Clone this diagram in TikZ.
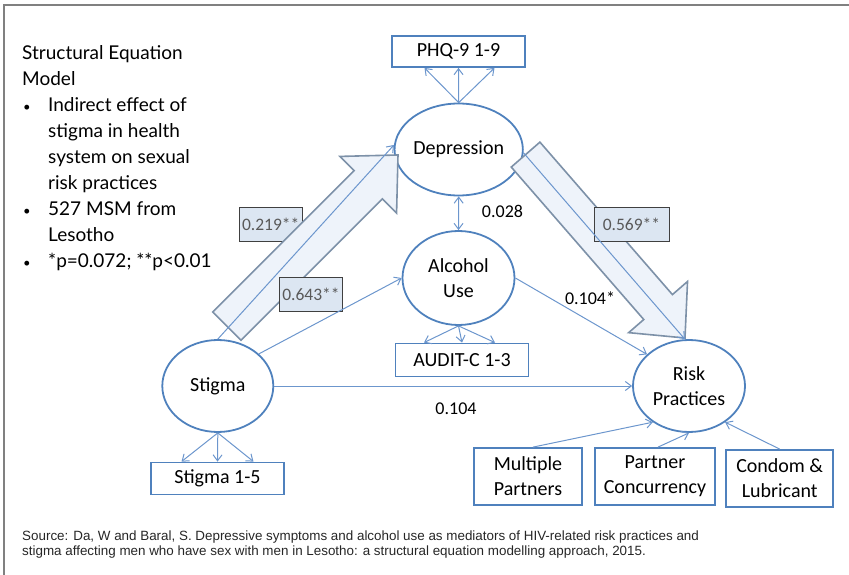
\documentclass[tikz,border=0pt]{standalone}
\usepackage{fontspec}
\setmainfont{Carlito}
\newfontfamily\sidefont{Lato}
\newfontfamily\srcfont{Liberation Sans}
\usetikzlibrary{shapes.geometric,arrows.meta}
\definecolor{nodeblue}{RGB}{79,129,189}
\definecolor{linkblue}{RGB}{108,150,205}
\definecolor{bigfill}{RGB}{238,243,250}
\definecolor{bigline}{RGB}{125,145,168}
\definecolor{labfill}{RGB}{220,230,242}
\definecolor{labtext}{RGB}{89,89,89}
\tikzstyle{latent}=[ellipse,draw=nodeblue,line width=1.8pt,minimum width=111pt,minimum height=92pt,inner sep=0pt,font=\fontsize{20}{25}\selectfont,align=center]
\tikzstyle{indicator}=[rectangle,draw=nodeblue,line width=1.8pt,inner sep=0pt,font=\fontsize{20}{25}\selectfont,align=center]
\tikzstyle{coef}=[rectangle,draw=black!75,fill=labfill,text=labtext,line width=0.8pt,inner xsep=3pt,minimum height=34pt,font=\fontsize{17.5}{20}\selectfont]
\tikzstyle{num}=[inner sep=0pt,font=\fontsize{18}{20}\selectfont]
\tikzstyle{link}=[->,draw=linkblue,line width=1pt]
\tikzstyle{bigarrow}=[fill=bigfill,draw=bigline,line width=1.6pt,line join=miter]
\tikzstyle{frame}=[draw=black!50,line width=1.6pt]
\newcommand{\dotmark}{{\fontsize{13}{26}\selectfont\hspace{1pt}\textbullet}}

\begin{document}
\begin{tikzpicture}[x=1pt, y=-1pt, >={Straight Barb[length=6pt,width=9pt]}]
\useasboundingbox (0, 0) rectangle (849, 575);
\draw[frame] (4, 575) -- (4, 5) -- (849, 5);

% measurement model
\node[indicator, minimum width=133pt, minimum height=31pt] at (458.5, 51.5) (phq) {PHQ-9 1-9};
\node[latent, minimum width=109pt] at (458.7, 149.5) (dep) {Depression};
\node[latent, minimum width=112pt, minimum height=94pt] at (458.5, 278) (alc) {Alcohol\\Use};
\node[indicator, minimum width=133pt, minimum height=33pt] at (462, 360) (aud) {AUDIT-C 1-3};
\node[latent] at (217.8, 386) (stig) {Stigma};
\node[indicator, minimum width=133pt, minimum height=32pt] at (217.5, 478.5) (stigind) {Stigma 1-5};
\node[latent, minimum width=112pt] at (689, 386) (risk) {Risk\\Practices};
\node[indicator, minimum width=108pt, minimum height=57pt] at (528, 476.5) (mult) {Multiple\\Partners};
\node[indicator, minimum width=120pt, minimum height=57pt] at (655, 476.5) (conc) {Partner\\Concurrency};
\node[indicator, minimum width=107pt, minimum height=57pt] at (779.7, 478.5) (cond) {Condom \&\\Lubricant};

% indirect path
\node[coef] at (270.7, 224) (s2d) {0.219**};
\draw[bigarrow, shift={(398, 155)}, rotate=45] (0, 0) -- (-42, 40) -- (-42, 20) -- (-242, 20) -- (-242, -20) -- (-42, -20) -- (-42, -40) -- cycle;
\draw[bigarrow, shift={(685, 338)}, rotate=-49] (0, 0) -- (-41, 39) -- (-41, 19) -- (-243, 19) -- (-243, -19) -- (-41, -19) -- (-41, -39) -- cycle;
\node[coef] at (311, 294.5) (s2a) {0.643**};
\node[coef, minimum width=75pt] at (631.5, 224) (d2r) {0.569**};

\draw[link] (dep.north) -- ([xshift=-34pt]phq.south);
\draw[link] (dep.north) -- (phq.south);
\draw[link] (dep.north) -- ([xshift=36pt]phq.south);
\draw[link] (alc.south) -- ([xshift=-38pt]aud.north);
\draw[link] (alc.south) -- (aud.north);
\draw[link] (alc.south) -- ([xshift=33pt]aud.north);
\draw[link] (stig.south) -- ([xshift=-36pt]stigind.north);
\draw[link] (stig.south) -- (stigind.north);
\draw[link] (stig.south) -- ([xshift=36pt]stigind.north);
\draw[link, <->] (dep.south) -- (alc.north);
\draw[link] (stig.north) -- (dep.176);
\draw[link] (stig.38) -- (alc.west);
\draw[link] (stig.east) -- (risk.west);
\draw[link] (dep.-3) -- (risk.95);
\draw[link] (alc.east) -- (risk.143);
\draw[link] ([xshift=5pt]mult.north) -- (risk.-135);
\draw[link] ([xshift=3pt]conc.north) -- (risk.south);
\draw[link] (cond.north) -- (risk.-45);

\node[num] at (502.5, 211.5) (d2a) {0.028};
\node[num] at (590, 298) (a2r) {0.104*};
\node[num] at (456, 409) (s2r) {0.104};

% side notes
\node[anchor=north west, inner sep=0pt, font=\sidefont\fontsize{19}{26}\selectfont] at (22, 41) (notes) {%
\begin{tabular}{@{}p{26pt}@{}l@{}}
\multicolumn{2}{@{}l@{}}{Structural Equation}\\
\multicolumn{2}{@{}l@{}}{Model}\\
\dotmark & Indirect effect of\\
 & stigma in health\\
 & system on sexual\\
 & risk practices\\
\dotmark & 527 MSM from\\
 & Lesotho\\
\dotmark & *p=0.072; **p<0.01
\end{tabular}};
\node[anchor=north west, inner sep=0pt, align=left, text=black!85, font=\srcfont\fontsize{13.4}{15}\selectfont] at (22, 531) (src) {Source: Da, W and Baral, S. Depressive symptoms and alcohol use as mediators of HIV-related risk practices and\\stigma affecting men who have sex with men in Lesotho: a structural equation modelling approach, 2015.};
\end{tikzpicture}
\end{document}
